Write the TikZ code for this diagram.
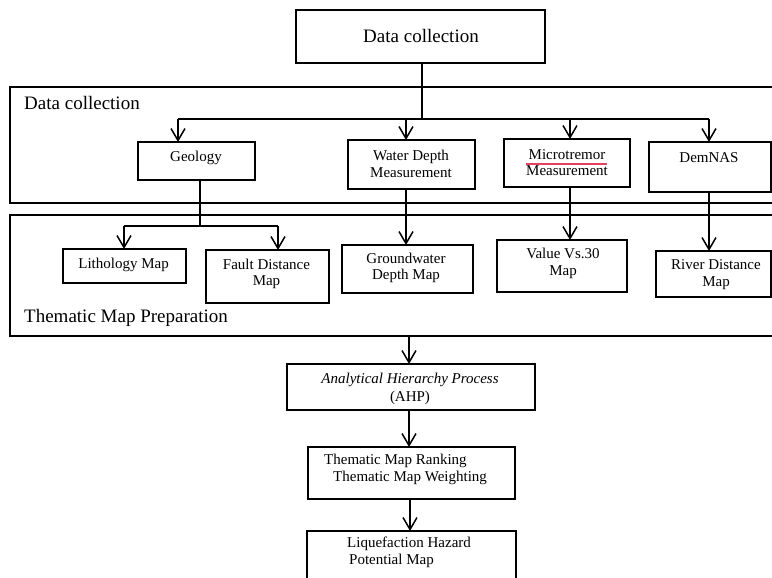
\documentclass[tikz,border=0pt]{standalone}
\usepackage{fontspec}
\setmainfont{Liberation Serif}
\usetikzlibrary{arrows.meta}
\definecolor{squig}{RGB}{228,64,96}
\begin{document}
\begin{tikzpicture}[x=1pt,y=-1pt,
  box/.style={draw, line width=1.2pt, rectangle, inner sep=0pt, outer sep=0pt},
  lab/.style={font=\fontsize{15}{16.5}\selectfont, align=center, inner sep=0pt},
  big/.style={font=\fontsize{19}{22}\selectfont, inner sep=0pt},
  ln/.style={line width=1.4pt},
  arr/.style={line width=1.6pt, -{Straight Barb[length=12pt,width=14pt,line width=1.5pt]}}]
\useasboundingbox (0,0) rectangle (772,578);
\clip (0,0) rectangle (772,578);
\newcommand\mkbox[5]{\node[box, minimum width={#4-#2}, minimum height={#5-#3}] (#1) at ({(#2+#4)/2},{(#3+#5)/2}) {};}
% boxes
\mkbox{top}{296}{10}{545}{63}
\mkbox{outerA}{10}{87}{790}{203}
\mkbox{outerB}{10}{215}{790}{336}
\mkbox{geo}{138}{142}{255}{180}
\mkbox{wat}{348}{140}{475}{189}
\mkbox{mic}{504}{139}{630}{187}
\mkbox{dem}{649}{142}{771}{192}
\mkbox{lit}{63}{249}{186}{283}
\mkbox{fau}{206}{250}{329}{303}
\mkbox{gro}{342}{245}{473}{293}
\mkbox{vs}{497}{240}{627}{292}
\mkbox{riv}{656}{251}{771}{297}
\mkbox{ahp}{287}{364}{535}{410}
\mkbox{thm}{308}{447}{515}{499}
\mkbox{liq}{307}{531}{516}{600}
% texts
\node[big, anchor=base] (ttop) at (421,43) {Data collection};
\node[big, anchor=base west] (tA) at (24,110) {Data collection};
\node[big, anchor=base west] (tB) at (24,322) {Thematic Map Preparation};
\node[lab, anchor=base] (tgeo) at (196,161) {Geology};
\node[lab] (twat) at (411,164) {Water Depth\\Measurement};
\node[lab] (tmic) at (567,162.5) {Microtremor\\Measurement};
\node[lab, anchor=base] (tdem) at (709,162) {DemNAS};
\node[lab, anchor=base] (tlit) at (123.6,268) {Lithology Map};
\node[lab] (tfau) at (266.5,274) {Fault Distance\\Map};
\node[lab] (tgro) at (406,268) {Groundwater\\Depth Map};
\node[lab] (tvs) at (563,263.5) {Value Vs.30\\Map};
\node[lab] (triv) at (716,274.5) {River Distance\\Map};
\node[lab, font=\fontsize{15}{18}\selectfont] (tahp) at (410,388.5) {\textit{Analytical Hierarchy Process}\\(AHP)};
\node[lab, align=left, anchor=west] (tthm) at (324,469.5) {Thematic Map Ranking\\\hspace{9pt}Thematic Map Weighting};
\node[lab, align=left, anchor=west] (tliq) at (347,552.5) {Liquefaction Hazard\\\hspace{2pt}Potential Map};
% spell-check underline
\draw[squig, line width=1.1pt] (526,164) -- (607,164);
% connectors
\coordinate (jA) at (422,119);
\coordinate (bL) at (178,119);
\coordinate (bR) at (709,119);
\coordinate (cW) at (406,119);
\coordinate (cM) at (570,119);
\draw[ln] (top.south -| jA) -- (jA);
\draw[ln] (bL) -- (bR);
\draw[arr] (bL) -- (bL |- geo.north);
\draw[arr] (cW) -- (cW |- wat.north);
\draw[arr] (cM) -- (cM |- mic.north);
\draw[arr] (bR) -- (bR |- dem.north);
\coordinate (gJ) at (200,226);
\coordinate (lL) at (124,226);
\coordinate (lR) at (278,226);
\draw[ln] (geo.south -| gJ) -- (gJ);
\draw[ln] (lL) -- (lR);
\draw[arr] (lL) -- (lL |- lit.north);
\draw[arr] (lR) -- (lR |- fau.north);
\draw[arr] (wat.south -| cW) -- (gro.north -| cW);
\draw[arr] (mic.south -| cM) -- (vs.north -| cM);
\draw[arr] (dem.south -| bR) -- (riv.north -| bR);
\coordinate (vA) at (409,0);
\draw[arr] (outerB.south -| vA) -- (ahp.north -| vA);
\draw[arr] (ahp.south -| vA) -- (thm.north -| vA);
\coordinate (vB) at (410,0);
\draw[arr] (thm.south -| vB) -- (liq.north -| vB);
\end{tikzpicture}
\end{document}
